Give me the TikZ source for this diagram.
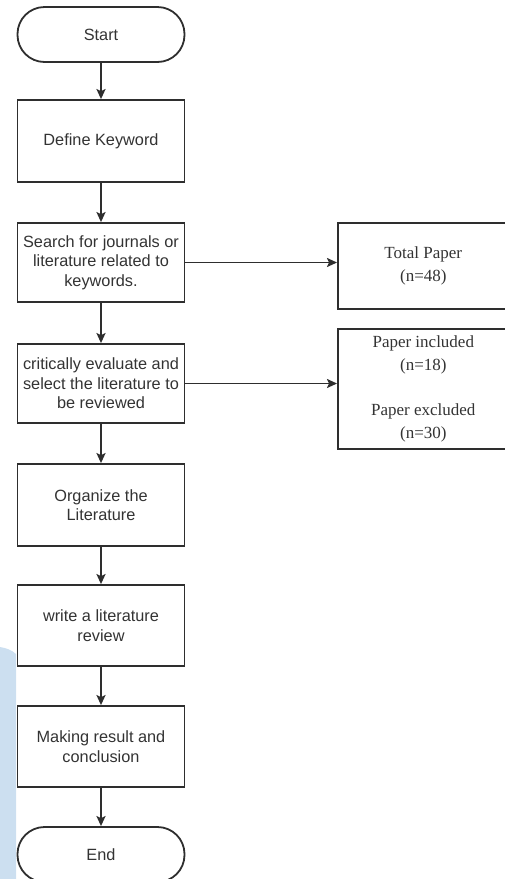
\documentclass[tikz,border=0pt]{standalone}
\usepackage{fontspec}
\setmainfont{Liberation Serif}
\newfontfamily\arialf{Liberation Sans}
\usetikzlibrary{arrows.meta}
\definecolor{linec}{HTML}{2E2E2E}
\definecolor{textc}{HTML}{333333}
\definecolor{bluebg}{HTML}{CCDFF0}
\begin{document}
\begin{tikzpicture}[x=1pt,y=-1pt,
  flowbox/.style={draw=linec, line width=1.8pt, minimum width=167pt, minimum height=80pt, inner sep=0pt, align=center, text=textc, font=\arialf\fontsize{16.3}{19.5}\selectfont},
  termbox/.style={flowbox, minimum height=55pt, rounded corners=27pt},
  sidebox/.style={draw=linec, line width=1.6pt, minimum width=171pt, inner sep=0pt, align=center, text=textc, font=\fontsize{17}{23}\selectfont},
  flowarrow/.style={draw=linec, line width=1.8pt, -{Stealth[length=10pt,width=9pt,inset=2pt]}}
]
\useasboundingbox (0,0) rectangle (505,879);
\clip (0,0) rectangle (505,879);
\fill[bluebg] (0,647) .. controls (6,648) and (12,650) .. (16,654) -- (16,879) -- (0,879) -- cycle;
\node[termbox] (start) at (101,34.5) {Start};
\node[flowbox, minimum height=82pt] (define) at (101,141) {Define Keyword};
\node[flowbox, minimum height=79pt] (search) at (101,262.5) {Search for journals or\\literature related to\\keywords.};
\node[flowbox, minimum height=79pt] (eval) at (101,383.5) {critically evaluate and\\select the literature to\\be reviewed};
\node[flowbox, minimum height=82pt] (organize) at (101,505) {Organize the\\Literature};
\node[flowbox, minimum height=81pt] (write) at (101,625.5) {write a literature\\review};
\node[flowbox, minimum height=81pt] (making) at (101,746.5) {Making result and\\conclusion};
\node[termbox] (end) at (101,854.5) {End};
\node[sidebox, minimum height=86pt, anchor=north west] (total) at (337,222) {Total Paper\\(n=48)};
\node[sidebox, minimum height=120pt, anchor=north west] (incl) at (337,328) {Paper included\\(n=18)\\[22pt]Paper excluded\\(n=30)};
\draw[flowarrow] (start) -- (define);
\draw[flowarrow] (define) -- (search);
\draw[flowarrow] (search) -- (eval);
\draw[flowarrow] (eval) -- (organize);
\draw[flowarrow] (organize) -- (write);
\draw[flowarrow] (write) -- (making);
\draw[flowarrow] (making) -- (end);
\draw[flowarrow] (search.east) -- (search.east -| total.west);
\draw[flowarrow] (eval.east) -- (eval.east -| incl.west);
\end{tikzpicture}
\end{document}
